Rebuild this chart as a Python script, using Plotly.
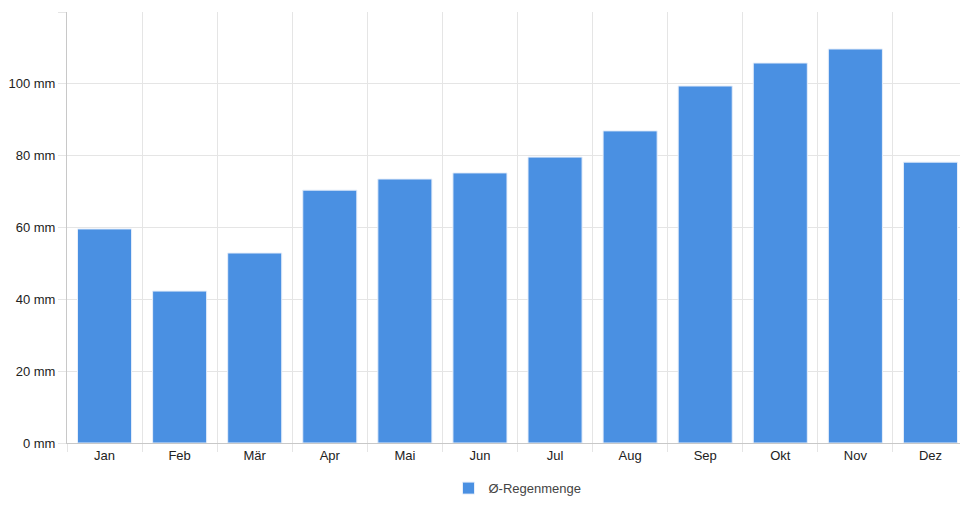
import plotly.graph_objects as go

# Monthly average rainfall (mm)
months = ["Jan", "Feb", "Mär", "Apr", "Mai", "Jun", "Jul", "Aug", "Sep", "Okt", "Nov", "Dez"]
rain_mm = [59.6, 42.3, 52.9, 70.4, 73.5, 75.2, 79.6, 86.9, 99.4, 105.8, 109.7, 78.2]
y_ticks = [0, 20, 40, 60, 80, 100, 120]
y_labels = [f"{v} mm" for v in y_ticks]

fig = go.Figure()
fig.add_trace(go.Bar(
    x=months,
    y=rain_mm,
    name="Ø-Regenmenge",
    marker=dict(color="#4a90e2", line=dict(color="#e6eefa", width=1)),
    width=0.72,
))

# page body adds an 8px offset, so margins are shifted accordingly
fig.update_layout(
    width=960, height=500,
    margin=dict(l=56, r=0, t=4, b=65),
    plot_bgcolor="white", paper_bgcolor="white",
    font=dict(family="Liberation Sans, Arial, sans-serif", size=13, color="#222"),
    showlegend=True,
    legend=dict(orientation="h", x=0.5, xanchor="center", y=-0.07, yanchor="top",
                font=dict(size=13, color="#444")),
    bargap=0.28,
)
fig.update_xaxes(
    type="category", tickson="boundaries", showgrid=True, gridcolor="#e5e5e5",
    ticks="outside", ticklen=8, tickcolor="#e5e5e5",
    showline=True, linecolor="#c8c8c8", linewidth=1,
)
fig.update_yaxes(
    range=[0, 120], tickvals=y_ticks, ticktext=y_labels, showgrid=True, gridcolor="#e5e5e5",
    ticks="outside", ticklen=8, tickcolor="#e5e5e5", zeroline=False,
    showline=True, linecolor="#c8c8c8", linewidth=1,
)

fig.write_html("out.html")
